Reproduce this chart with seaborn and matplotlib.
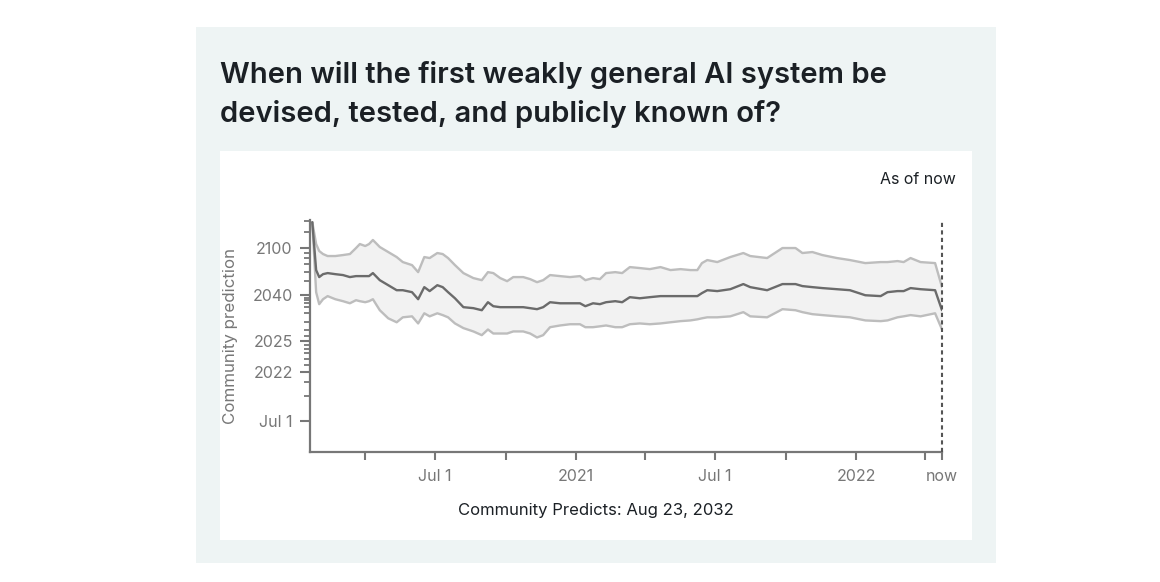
import numpy as np
import pandas as pd
import matplotlib
matplotlib.use("Agg")
import matplotlib.pyplot as plt
from matplotlib.patches import Rectangle
import seaborn as sns

# ---------------- data ----------------
dates = ["2020-01-23","2020-01-28","2020-02-01","2020-02-06","2020-02-12","2020-02-22","2020-03-03","2020-03-12","2020-03-20","2020-03-25",
         "2020-04-01","2020-04-06","2020-04-11","2020-04-20","2020-05-01","2020-05-12","2020-05-20","2020-06-01","2020-06-09","2020-06-17",
         "2020-06-24","2020-07-04","2020-07-11","2020-07-18","2020-07-27","2020-08-07","2020-08-20","2020-08-31","2020-09-08","2020-09-15",
         "2020-09-24","2020-10-03","2020-10-11","2020-10-24","2020-11-02","2020-11-11","2020-11-19","2020-11-28","2020-12-11","2020-12-24",
         "2021-01-06","2021-01-13","2021-01-23","2021-02-01","2021-02-09","2021-02-21","2021-03-02","2021-03-12","2021-03-25","2021-04-07",
         "2021-04-21","2021-05-04","2021-05-17","2021-05-30","2021-06-08","2021-06-14","2021-06-21","2021-07-04","2021-07-21","2021-08-07",
         "2021-08-16","2021-09-07","2021-09-27","2021-10-14","2021-10-23","2021-11-05","2021-11-18","2021-12-07","2021-12-24","2022-01-13",
         "2022-02-02","2022-02-11","2022-02-24","2022-03-04","2022-03-13","2022-03-26","2022-04-14","2022-04-23"]

upper = [2195, 2111.1, 2093.9, 2087.5, 2083.6, 2083.6, 2085.5, 2087.5, 2100.8, 2111.1,
         2105.8, 2111.1, 2122.8, 2103.3, 2091.7, 2081.7, 2073.1, 2068.5, 2059.3, 2081.7,
         2079.9, 2089.6, 2087.5, 2079.9, 2068.5, 2058.2, 2052.9, 2050.9, 2059.3, 2058.2,
         2052.9, 2050.0, 2053.9, 2053.9, 2051.9, 2049.1, 2050.9, 2056.0, 2054.9, 2053.9,
         2054.9, 2050.9, 2052.9, 2051.9, 2058.2, 2059.3, 2058.2, 2065.7, 2064.4, 2063.0,
         2065.7, 2061.8, 2063.0, 2061.8, 2061.8, 2071.5, 2076.4, 2073.1, 2081.7, 2089.6,
         2083.6, 2079.9, 2100.8, 2100.8, 2089.6, 2091.7, 2085.5, 2079.9, 2076.4, 2071.5,
         2073.1, 2073.1, 2074.7, 2073.1, 2079.9, 2073.1, 2071.5, 2045.1]

median = [2195, 2061.8, 2053.9, 2057.0, 2058.2, 2057.0, 2056.0, 2053.9, 2054.9, 2054.9,
          2054.9, 2054.9, 2058.2, 2050.9, 2046.6, 2042.9, 2042.9, 2041.6, 2037.5, 2045.1,
          2042.3, 2046.6, 2045.1, 2041.6, 2038.0, 2033.8, 2033.4, 2032.6, 2036.0, 2034.2,
          2033.8, 2033.8, 2033.8, 2033.8, 2033.4, 2033.0, 2033.8, 2036.0, 2035.5, 2035.5,
          2035.5, 2034.2, 2035.5, 2035.1, 2036.0, 2036.5, 2036.0, 2038.6, 2038.0, 2038.6,
          2039.2, 2039.2, 2039.2, 2039.2, 2039.2, 2041.0, 2042.9, 2042.3, 2043.6, 2047.5,
          2045.1, 2042.9, 2047.5, 2047.5, 2045.9, 2045.1, 2044.4, 2043.6, 2042.9, 2039.7,
          2039.2, 2041.6, 2042.3, 2042.3, 2044.4, 2043.6, 2042.9, 2032.6]

lower = [2195, 2041.6, 2035.1, 2037.5, 2039.2, 2037.5, 2036.5, 2035.5, 2037.0, 2036.5,
         2036.0, 2036.5, 2037.5, 2032.6, 2029.9, 2028.8, 2030.2, 2030.5, 2028.5, 2031.5,
         2030.5, 2031.5, 2030.9, 2030.2, 2028.5, 2027.4, 2026.7, 2026.0, 2027.1, 2026.3,
         2026.3, 2026.3, 2026.7, 2026.7, 2026.3, 2025.6, 2026.0, 2027.6, 2028.0, 2028.3,
         2028.3, 2027.6, 2027.6, 2027.8, 2028.0, 2027.6, 2027.6, 2028.3, 2028.5, 2028.3,
         2028.5, 2028.8, 2029.1, 2029.3, 2029.6, 2029.9, 2030.2, 2030.2, 2030.5, 2031.9,
         2030.5, 2030.2, 2033.0, 2032.6, 2031.9, 2031.2, 2030.9, 2030.5, 2030.2, 2029.3,
         2029.1, 2029.3, 2030.2, 2030.5, 2030.9, 2030.5, 2031.5, 2027.1]

x_start = "2020-01-20"
now_date = "2022-04-23"
x_major = ["2020-07-01", "2021-01-01", "2021-07-01", "2022-01-01", now_date]
x_major_labels = ["Jul 1", "2021", "Jul 1", "2022", "now"]
x_minor = ["2020-04-01", "2020-10-01", "2021-04-01", "2021-10-01", "2022-04-01"]

y_major = [2020.5, 2022, 2025, 2040, 2100]
y_major_labels = ["Jul 1", "2022", "2025", "2040", "2100"]
y_minor = [2021, 2021.5, 2022.5, 2023, 2023.5, 2024, 2024.5, 2025.8, 2027, 2029, 2031.7,
           2034, 2035.4, 2036.9, 2038, 2050, 2060, 2070, 2080, 2090, 2150, 2200]
y_limits = (2020.23, 2207)
scale_origin = 2020.05

title = "When will the first weakly general AI system be\ndevised, tested, and publicly known of?"
footer = "Community Predicts: Aug 23, 2032"

# ---------------- style ----------------
sns.set_theme(style="white")
plt.rcParams["font.family"] = ["Inter", "DejaVu Sans"]

W, H = 1160, 582
fig = plt.figure(figsize=(W / 100, H / 100), dpi=100, facecolor="white")

def fx(px):
    return px / W

def fy(py):
    return 1 - py / H

# background panels
fig.patches.append(Rectangle((fx(196), fy(563)), 800 / W, 536 / H, transform=fig.transFigure,
                             facecolor="#eef4f4", edgecolor="none", zorder=-20))
fig.patches.append(Rectangle((fx(220), fy(540)), 752 / W, 389 / H, transform=fig.transFigure,
                             facecolor="white", edgecolor="none", zorder=-10))

ax = fig.add_axes([fx(310), fy(452), 632 / W, 232 / H])
ax.set_facecolor("none")
ax.set_zorder(5)

df = pd.DataFrame({"date": pd.to_datetime(dates), "upper": upper, "median": median, "lower": lower})

ax.fill_between(df["date"].to_numpy(), df["lower"], df["upper"], color="#f2f2f2", linewidth=0, zorder=1)
sns.lineplot(data=df, x="date", y="upper", ax=ax, color="#bdbdbd", linewidth=1.7, estimator=None, sort=False, zorder=2)
sns.lineplot(data=df, x="date", y="lower", ax=ax, color="#bdbdbd", linewidth=1.7, estimator=None, sort=False, zorder=2)
sns.lineplot(data=df, x="date", y="median", ax=ax, color="#6b6b6b", linewidth=1.7, estimator=None, sort=False, zorder=3)

def fwd(v):
    return np.log(np.maximum(np.asarray(v, dtype=float) - scale_origin, 1e-9))

def inv(v):
    return np.exp(v) + scale_origin

ax.set_yscale("function", functions=(fwd, inv))
ax.set_ylim(*y_limits)
ax.set_xlim(pd.Timestamp(x_start), pd.Timestamp(now_date))

ax.axvline(pd.Timestamp(now_date), color="#555555", linewidth=1.5, linestyle=(0, (2, 1.6)),
           clip_on=False, zorder=4)

# ticks
ax.set_xticks(pd.to_datetime(x_major))
ax.set_xticklabels(x_major_labels)
ax.set_xticks(pd.to_datetime(x_minor), minor=True)
ax.set_yticks(y_major)
ax.set_yticklabels(y_major_labels)
ax.set_yticks(y_minor, minor=True)

tick_color = "#777777"
ax.tick_params(axis="x", which="both", direction="out", length=6, width=1.5, color=tick_color,
               labelcolor=tick_color, labelsize=11.5, pad=6, bottom=True)
ax.tick_params(axis="y", which="major", direction="out", length=7.5, width=1.5, color=tick_color,
               labelcolor=tick_color, labelsize=11.5, pad=5, left=True)
ax.tick_params(axis="y", which="minor", direction="out", length=4, width=1.3, color=tick_color, left=True)

for s in ["top", "right"]:
    ax.spines[s].set_visible(False)
for s in ["left", "bottom"]:
    ax.spines[s].set_color(tick_color)
    ax.spines[s].set_linewidth(1.6)

ax.set_xlabel("")
ax.set_ylabel("")
ax.grid(False)

# texts
fig.text(fx(220), fy(122), title, ha="left", va="baseline", fontsize=21, fontweight="semibold",
         color="#1b2025", linespacing=1.5)
fig.text(fx(956), fy(179), "As of now", ha="right", va="center", fontsize=11.5, color="#1b2025")
fig.text(fx(230), fy(335.5), "Community prediction", rotation=90, ha="center", va="center",
         fontsize=12.2, color=tick_color)
fig.text(fx(596), fy(511), footer, ha="center", va="center", fontsize=12, color="#1b2025")

fig.savefig("out.png", dpi=100, facecolor="white")
